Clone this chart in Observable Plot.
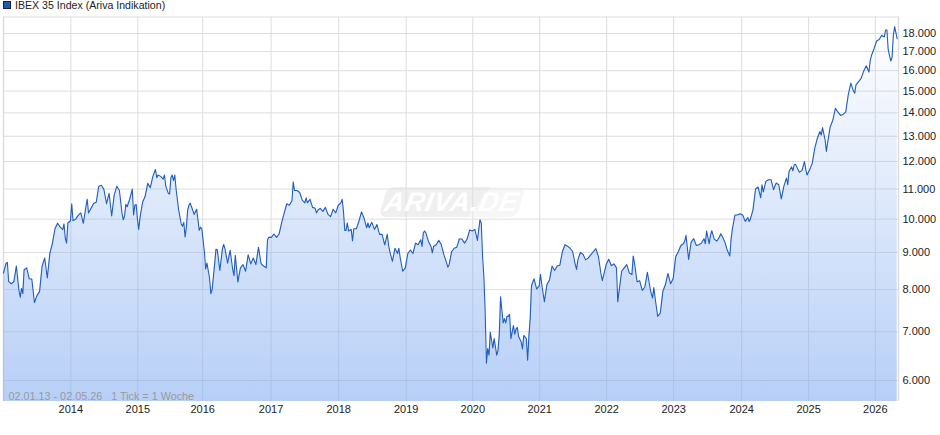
<!DOCTYPE html>
<html><head><meta charset="utf-8">
<script src="https://cdn.jsdelivr.net/npm/d3@7"></script>
<script src="https://cdn.jsdelivr.net/npm/@observablehq/plot@0.6"></script>
<style>
html,body{margin:0;padding:0;background:#fff;overflow:hidden}
#wrap{position:relative;width:940px;height:435px;font:10.6px "Liberation Sans",Arial,sans-serif}
#legend{height:16px;line-height:11px;color:#222;position:relative}
#legend i{position:absolute;left:3px;top:1px;width:6px;height:6px;background:#1a5cb8;border:1px solid #223}
#legend span{position:absolute;left:15px;top:0}
#mark{position:absolute;left:383px;top:187px;width:138px;height:30px;transform:skewX(-16deg);border-radius:7px;
background:linear-gradient(115deg,rgba(226,226,226,.55) 0 68%,rgba(238,238,238,.5) 68% 100%);
color:#fff;font:italic bold 27px "Liberation Sans",Arial,sans-serif;letter-spacing:.8px;text-align:center;line-height:30px;pointer-events:none}
#mark b{display:inline-block;transform:skewX(6deg)}
</style></head><body>
<div id="wrap"><div id="legend"><i></i><span>IBEX 35 Index (Ariva Indikation)</span></div><div id="chart"></div>
<div id="mark"><b>ARIVA.DE</b></div></div>
<script>
const caption = "02.01.13 - 02.05.26\u00a0\u00a0\u00a01 Tick = 1 Woche";
const stepWeeks = 2, lastWeek = 695;
const close2013 = [8430,8700,8210,8150,8200,8620,7980,8030,8520,8570,8280,8270,7680,7850,7950,8620,8840,8300,8970,9270,9700,9870,9760,9670,9400,9880];
const close2014 = [9950,9950,10000,10120,10200,9870,10400,10200,10350,10510,10550,11100,11130,10980,10500,10850,10100,10800,11100,10950,10200,10100,10400,10650,11000,10450];
const close2015 = [10000,10050,10550,10750,11200,11050,11450,11700,11500,11450,11350,11100,10850,11400,11300,11000,10300,9850,9900,9750,10450,10400,10150,10320,9650,9700];
const close2016 = [9020,8700,8300,8000,8700,9080,8500,9100,9100,8700,9060,8520,8920,8200,8570,8660,8480,8930,8680,8840,8660,9150,8690,8620,8570,9440];
const close2017 = [9440,9540,9440,9540,9890,10200,10500,10450,10600,10950,10950,10880,10620,10530,10530,10650,10380,10350,10280,10350,10250,10380,10150,10080,10320,10200];
const close2018 = [10450,10530,10250,9650,9630,9680,9700,9700,9930,10230,10030,9730,9730,9900,9680,9830,9530,9530,9220,9530,9020,8750,9120,8970,8860,8480];
const close2019 = [8570,8970,9070,8970,9270,9220,9370,9570,9570,9320,9170,9170,9220,9350,9220,8930,8720,8650,9020,9120,9150,9390,9390,9270,9390,9660];
const close2020 = [9630,9680,9350,9980,8900,7500,6640,6990,6650,6680,6600,7820,7200,7200,7350,6850,7140,7060,6900,6780,6920,6850,6900,8100,8280,8020];
const close2021 = [8090,8130,7700,8130,8250,8620,8500,8620,8640,9020,9220,9180,9120,9020,8660,8790,9000,8950,8790,8840,8930,9020,9110,8880,8400,8370];
const close2022 = [8660,8810,8630,8680,8570,7950,8480,8570,8660,8430,8390,8700,8200,8230,7980,8060,8450,8060,7790,7790,7350,7430,7950,8130,8420,8150];
const close2023 = [8280,8880,9020,9200,9250,9500,8800,9300,9400,9200,9220,9270,9400,9630,9250,9640,9380,9330,9450,9480,9320,9070,8900,9700,10130,10130];
const close2024 = [10170,10130,9930,10050,10000,10300,11000,11070,10700,10900,11270,11330,11330,10980,11210,11150,10660,11100,11390,11630,11800,11880,11800,11600,11660,12000];
const close2025 = [11500,11690,11930,12520,12920,13200,13360,12850,12750,13400,13680,14200,14030,13890,13930,14030,14830,15380,15000,15300,15460,15620,15980,16250,15930,16790];
const close2026 = [17150,17580,17660,17900,17800,18200,16800,16680,18400,17700];
const oddWeeks = [3,13,15,47,49,53,65,93,95,101,103,105,119,125,129,131,133,139,141,143,145,153,157,161,165,171,179,205,225,235,243,263,265,267,271,283,299,307,325,327,333,345,371,373,375,377,381,383,385,387,389,391,393,397,399,403,407,409,417,445,465,477,479,489,503,505,529,545,549,557,565,579,589,609,613,615,623,635,639,661,673,685,687,689,691];
const oddCloses = [8720,7810,7900,9850,9270,10500,10650,9980,10480,10130,10480,9680,11400,11500,10830,11500,11500,9780,9450,10280,10520,9750,8540,7900,9090,9230,8360,9360,11250,10700,10200,10650,9650,9880,9330,9880,9220,9120,9170,9630,8990,8590,9880,8350,6340,6500,6850,6500,6950,7500,7300,7350,7400,6950,7100,6630,6400,7300,8400,8530,8230,7700,8210,8900,7900,8050,9330,9250,9500,9550,9380,9930,11150,11150,11650,11900,11700,13050,12390,14900,16500,18200,17100,16500,17900];
const yearLabels = ["2014","2015","2016","2017","2018","2019","2020","2021","2022","2023","2024","2025","2026"];
const yearTickWeeks = [52.3,104.3,154.7,207.8,260.3,312.7,364.4,416.4,468.4,520.4,573.2,625.2,677];
const priceTicks = [6000,7000,8000,9000,10000,11000,12000,13000,14000,15000,16000,17000,18000];
const yMin = 5614, yMax = 18965;

const closes = [close2013,close2014,close2015,close2016,close2017,close2018,close2019,close2020,close2021,close2022,close2023,close2024,close2025,close2026].flat();
const rows = closes.map((close,i)=>({week:i*stepWeeks,close}))
  .concat(oddWeeks.map((week,i)=>({week,close:oddCloses[i]})))
  .sort((a,b)=>a.week-b.week);
const fmt = d=>d3.format(",")(d).replace(",",".");
const defs = () => {
  const s = d3.create("svg:defs");
  const g = s.append("linearGradient").attr("id","fillGrad").attr("x1",0).attr("x2",0).attr("y1",0).attr("y2",1);
  g.append("stop").attr("offset","0%").attr("stop-color","#87aff2").attr("stop-opacity",0);
  g.append("stop").attr("offset","100%").attr("stop-color","#87aff2").attr("stop-opacity",.6);
  return s.node();
};
const chart = Plot.plot({
  width:940,height:419,marginTop:0.5,marginBottom:34,marginLeft:3,marginRight:42,
  style:{fontFamily:'"Liberation Sans",Arial,sans-serif',fontSize:"11px",color:"#222",background:"transparent"},
  x:{type:"linear",domain:[0,lastWeek],label:null},
  y:{type:"log",domain:[yMin,yMax],label:null},
  marks:[
    defs,
    Plot.ruleY(priceTicks,{stroke:"#ddd",strokeWidth:1}),
    Plot.ruleY([yMax],{stroke:"#ddd",strokeWidth:1}),
    Plot.ruleX(yearTickWeeks,{stroke:"#ddd",strokeWidth:1}),
    Plot.ruleX([0,lastWeek],{stroke:"#ddd",strokeWidth:1.5}),
    Plot.areaY(rows,{x:"week",y1:()=>yMin,y2:"close",fill:"url(#fillGrad)"}),
    Plot.lineY(rows,{x:"week",y:"close",stroke:"#1f5dbe",strokeWidth:1.1}),
    Plot.axisY({anchor:"right",ticks:priceTicks,tickFormat:fmt,tickSize:0,tickPadding:4,label:null,fontSize:11}),
    Plot.axisX({ticks:yearTickWeeks,tickFormat:(d,i)=>yearLabels[i],tickSize:0,tickPadding:4,label:null}),
    Plot.text([caption],{frameAnchor:"bottom-left",dx:5,dy:-1.5,lineAnchor:"bottom",fill:"#999",fontSize:10.8})
  ]
});
document.getElementById("chart").append(chart);
</script></body></html>
